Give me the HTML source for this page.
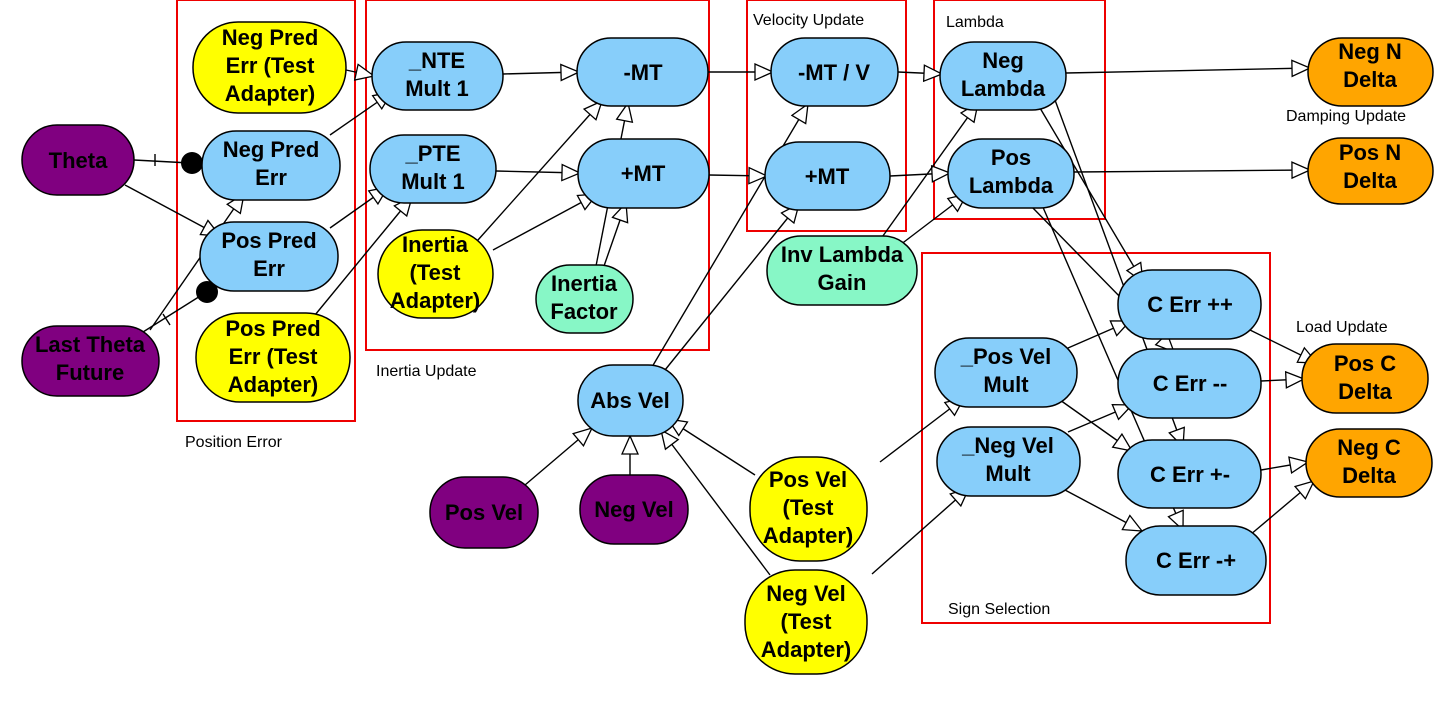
<!DOCTYPE html>
<html><head><meta charset="utf-8"><style>
html,body{margin:0;padding:0;background:#fff}
svg{display:block}
.n{stroke:#000;stroke-width:1.5}
.t{font-family:"Liberation Sans",sans-serif;font-weight:bold;font-size:22px;text-anchor:middle;fill:#000}
.l{font-family:"Liberation Sans",sans-serif;font-size:16px;fill:#000}
.e{stroke:#000;stroke-width:1.4;fill:none}
.r{stroke:#e00;stroke-width:2;fill:none}
</style></head><body>
<svg width="1454" height="703" viewBox="0 0 1454 703" xmlns="http://www.w3.org/2000/svg">
<defs>
<marker id="a" markerWidth="24" markerHeight="24" refX="19" refY="9" orient="auto" markerUnits="userSpaceOnUse">
<path d="M1,1 L19,9 L1,17 Z" fill="#fff" stroke="#000" stroke-width="1.3"/>
</marker>
</defs>
<rect class="r" x="177" y="0" width="178" height="421"/>
<rect class="r" x="366" y="0" width="343" height="350"/>
<rect class="r" x="747" y="0" width="159" height="231"/>
<rect class="r" x="934" y="0" width="171" height="219"/>
<rect class="r" x="922" y="253" width="348" height="370"/>
<text class="l" x="185" y="447">Position Error</text>
<text class="l" x="376" y="376">Inertia Update</text>
<text class="l" x="753" y="25">Velocity Update</text>
<text class="l" x="946" y="27">Lambda</text>
<text class="l" x="1286" y="121">Damping Update</text>
<text class="l" x="1296" y="332">Load Update</text>
<text class="l" x="948" y="614">Sign Selection</text>
<g class="e" marker-end="url(#a)">
<line x1="346" y1="70" x2="374" y2="76"/>
<line x1="330" y1="135" x2="392" y2="92"/>
<line x1="330" y1="228" x2="388" y2="187"/>
<line x1="315" y1="315" x2="412" y2="197"/>
<line x1="125" y1="185" x2="220" y2="236"/>
<line x1="150" y1="330" x2="244" y2="194"/>
<line x1="503" y1="74" x2="579" y2="72"/>
<line x1="496" y1="171" x2="580" y2="173"/>
<line x1="478" y1="240" x2="602" y2="101"/>
<line x1="493" y1="250" x2="597" y2="194"/>
<line x1="596" y1="266" x2="628" y2="103"/>
<line x1="604" y1="266" x2="626" y2="203"/>
<line x1="708" y1="72" x2="773" y2="72"/>
<line x1="709" y1="175" x2="767" y2="176"/>
<line x1="652" y1="367" x2="808" y2="104"/>
<line x1="665" y1="370" x2="799" y2="204"/>
<line x1="898" y1="72" x2="942" y2="74"/>
<line x1="890" y1="176" x2="950" y2="173"/>
<line x1="880" y1="240" x2="978" y2="103"/>
<line x1="900" y1="245" x2="967" y2="194"/>
<line x1="1066" y1="73" x2="1310" y2="68"/>
<line x1="1074" y1="172" x2="1310" y2="170"/>
<line x1="525" y1="485" x2="592" y2="428"/>
<line x1="630" y1="475" x2="630" y2="436"/>
<line x1="755" y1="475" x2="668" y2="419"/>
<line x1="770" y1="575" x2="661" y2="430"/>
<line x1="880" y1="462" x2="964" y2="398"/>
<line x1="872" y1="574" x2="969" y2="488"/>
<line x1="1068" y1="348" x2="1130" y2="321"/>
<line x1="1060" y1="400" x2="1132" y2="451"/>
<line x1="1068" y1="432" x2="1132" y2="405"/>
<line x1="1065" y1="490" x2="1142" y2="531"/>
<line x1="1040" y1="108" x2="1143" y2="282"/>
<line x1="1055" y1="100" x2="1183" y2="447"/>
<line x1="1030" y1="205" x2="1174" y2="352"/>
<line x1="1042" y1="205" x2="1183" y2="530"/>
<line x1="1250" y1="330" x2="1317" y2="363"/>
<line x1="1261" y1="381" x2="1304" y2="379"/>
<line x1="1261" y1="470" x2="1308" y2="462"/>
<line x1="1250" y1="535" x2="1314" y2="481"/>
</g>
<g class="e">
<line x1="134" y1="160" x2="190" y2="163"/>
<line x1="155" y1="154" x2="155" y2="166"/>
<line x1="143" y1="332" x2="205" y2="293"/>
<line x1="163" y1="314" x2="170" y2="325"/>
</g>
<circle cx="192" cy="163" r="11" fill="#000"/>
<circle cx="207" cy="292" r="11" fill="#000"/>
<g class="n">
<rect x="22" y="125" width="112" height="70" rx="35" fill="#800080"/>
<rect x="22" y="326" width="137" height="70" rx="35" fill="#800080"/>
<rect x="193" y="22" width="153" height="91" rx="45" fill="#ffff00"/>
<rect x="202" y="131" width="138" height="69" rx="34" fill="#87cefa"/>
<rect x="200" y="222" width="138" height="69" rx="34" fill="#87cefa"/>
<rect x="196" y="313" width="154" height="89" rx="44" fill="#ffff00"/>
<rect x="372" y="42" width="131" height="68" rx="34" fill="#87cefa"/>
<rect x="370" y="135" width="126" height="68" rx="34" fill="#87cefa"/>
<rect x="577" y="38" width="131" height="68" rx="34" fill="#87cefa"/>
<rect x="578" y="139" width="131" height="69" rx="34" fill="#87cefa"/>
<rect x="378" y="230" width="115" height="88" rx="44" fill="#ffff00"/>
<rect x="536" y="265" width="97" height="68" rx="34" fill="#87f7c6"/>
<rect x="771" y="38" width="127" height="68" rx="34" fill="#87cefa"/>
<rect x="765" y="142" width="125" height="68" rx="34" fill="#87cefa"/>
<rect x="940" y="42" width="126" height="68" rx="34" fill="#87cefa"/>
<rect x="948" y="139" width="126" height="69" rx="34" fill="#87cefa"/>
<rect x="767" y="236" width="150" height="69" rx="34" fill="#87f7c6"/>
<rect x="1308" y="38" width="125" height="68" rx="34" fill="#ffa500"/>
<rect x="1308" y="138" width="125" height="66" rx="33" fill="#ffa500"/>
<rect x="578" y="365" width="105" height="71" rx="35" fill="#87cefa"/>
<rect x="430" y="477" width="108" height="71" rx="35" fill="#800080"/>
<rect x="580" y="475" width="108" height="69" rx="34" fill="#800080"/>
<rect x="750" y="457" width="117" height="104" rx="50" fill="#ffff00"/>
<rect x="745" y="570" width="122" height="104" rx="50" fill="#ffff00"/>
<rect x="935" y="338" width="142" height="69" rx="34" fill="#87cefa"/>
<rect x="937" y="427" width="143" height="69" rx="34" fill="#87cefa"/>
<rect x="1118" y="270" width="143" height="69" rx="34" fill="#87cefa"/>
<rect x="1118" y="349" width="143" height="69" rx="34" fill="#87cefa"/>
<rect x="1118" y="440" width="143" height="68" rx="34" fill="#87cefa"/>
<rect x="1126" y="526" width="140" height="69" rx="34" fill="#87cefa"/>
<rect x="1302" y="344" width="126" height="69" rx="34" fill="#ffa500"/>
<rect x="1306" y="429" width="126" height="68" rx="34" fill="#ffa500"/>
</g>
<g class="t">
<text x="78" y="168">Theta</text>
<text x="90" y="352">Last Theta</text><text x="90" y="380">Future</text>
<text x="270" y="45">Neg Pred</text><text x="270" y="73">Err (Test</text><text x="270" y="101">Adapter)</text>
<text x="271" y="157">Neg Pred</text><text x="271" y="185">Err</text>
<text x="269" y="248">Pos Pred</text><text x="269" y="276">Err</text>
<text x="273" y="336">Pos Pred</text><text x="273" y="364">Err (Test</text><text x="273" y="392">Adapter)</text>
<text x="437" y="68">_NTE</text><text x="437" y="96">Mult 1</text>
<text x="433" y="161">_PTE</text><text x="433" y="189">Mult 1</text>
<text x="643" y="80">-MT</text>
<text x="643" y="181">+MT</text>
<text x="435" y="252">Inertia</text><text x="435" y="280">(Test</text><text x="435" y="308">Adapter)</text>
<text x="584" y="291">Inertia</text><text x="584" y="319">Factor</text>
<text x="834" y="80">-MT / V</text>
<text x="827" y="184">+MT</text>
<text x="1003" y="68">Neg</text><text x="1003" y="96">Lambda</text>
<text x="1011" y="165">Pos</text><text x="1011" y="193">Lambda</text>
<text x="842" y="262">Inv Lambda</text><text x="842" y="290">Gain</text>
<text x="1370" y="59">Neg N</text><text x="1370" y="87">Delta</text>
<text x="1370" y="160">Pos N</text><text x="1370" y="188">Delta</text>
<text x="630" y="408">Abs Vel</text>
<text x="484" y="520">Pos Vel</text>
<text x="634" y="517">Neg Vel</text>
<text x="808" y="487">Pos Vel</text><text x="808" y="515">(Test</text><text x="808" y="543">Adapter)</text>
<text x="806" y="601">Neg Vel</text><text x="806" y="629">(Test</text><text x="806" y="657">Adapter)</text>
<text x="1006" y="364">_Pos Vel</text><text x="1006" y="392">Mult</text>
<text x="1008" y="453">_Neg Vel</text><text x="1008" y="481">Mult</text>
<text x="1190" y="312">C Err ++</text>
<text x="1190" y="391">C Err --</text>
<text x="1190" y="482">C Err +-</text>
<text x="1196" y="568">C Err -+</text>
<text x="1365" y="371">Pos C</text><text x="1365" y="399">Delta</text>
<text x="1369" y="455">Neg C</text><text x="1369" y="483">Delta</text>
</g>
</svg>
</body></html>
